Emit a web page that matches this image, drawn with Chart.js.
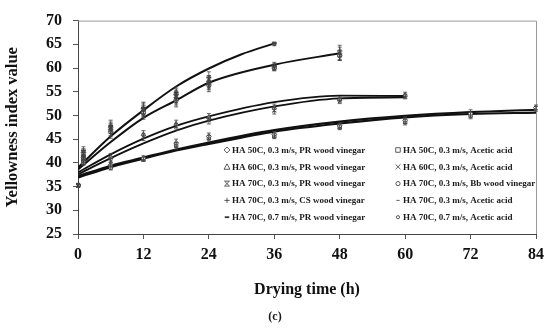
<!DOCTYPE html>
<html><head><meta charset="utf-8">
<script src="https://cdn.jsdelivr.net/npm/chart.js@4.4.0/dist/chart.umd.min.js"></script>
<style>html,body{margin:0;padding:0;background:#fff}</style>
</head><body>
<canvas id="c" width="550" height="334" style="width:550px;height:334px;display:block"></canvas>
<script>
// ---- data ----
const xTicks = [0, 12, 24, 36, 48, 60, 72, 84];
const yTicks = [25, 30, 35, 40, 45, 50, 55, 60, 65, 70];

const seriesNames = [
  'HA 50C, 0.3 m/s, PR wood vinegar', 'HA 50C, 0.3 m/s, Acetic acid',
  'HA 60C, 0.3 m/s, PR wood vinegar', 'HA 60C, 0.3 m/s, Acetic acid',
  'HA 70C, 0.3 m/s, PR wood vinegar', 'HA 70C, 0.3 m/s, Bb wood vinegar',
  'HA 70C, 0.3 m/s, CS wood vinegar', 'HA 70C, 0.3 m/s, Acetic acid',
  'HA 70C, 0.7 m/s, PR wood vinegar', 'HA 70C, 0.7 m/s, Acetic acid'
];

const times50 = [0, 1, 6, 12, 18, 24, 36, 48, 60, 72, 84];
const times60 = [0, 1, 6, 12, 18, 24, 36, 48, 60];
const times70s = [0, 1, 6, 12, 18, 24, 36, 48];
const times70f = [0, 1, 6, 12, 18, 24, 36];

const yi50PR = [35.3, 40.4, 39.6, 41.0, 44.2, 45.6, 46.0, 47.8, 49.0, 50.4, 51.7];
const er50PR = [0.3, 0.6, 0.5, 0.5, 0.8, 0.7, 0.6, 0.5, 0.7, 0.8, 0.5];
const yi50AA = [35.2, 40.0, 39.0, 40.7, 43.6, 45.2, 45.6, 47.5, 48.6, 50.0, 51.4];
const er50AA = [0.3, 0.5, 0.5, 0.4, 0.7, 0.6, 0.5, 0.5, 0.6, 0.7, 0.5];
const yi60PR = [35.3, 41.0, 41.2, 46.0, 48.2, 49.6, 51.6, 53.4, 54.3];
const er60PR = [0.3, 0.6, 0.8, 0.8, 0.8, 0.8, 0.8, 0.5, 0.6];
const yi60AA = [35.2, 40.6, 40.4, 45.4, 47.6, 48.9, 51.0, 53.0, 54.0];
const er60AA = [0.3, 0.5, 0.7, 0.7, 0.7, 0.7, 0.7, 0.5, 0.5];
const yi70PR = [35.3, 41.6, 47.0, 51.0, 53.8, 56.8, 60.3, 63.0];
const er70PR = [0.3, 0.8, 1.2, 1.2, 1.2, 1.2, 0.6, 1.4];
const yi70Bb = [35.2, 41.2, 46.6, 50.6, 53.2, 56.4, 60.0, 62.6];
const er70Bb = [0.3, 0.6, 1.0, 1.0, 1.0, 1.0, 0.5, 1.0];
const yi70CS = [35.4, 42.2, 47.4, 51.4, 54.4, 57.2, 60.6, 63.6];
const er70CS = [0.3, 0.8, 1.2, 1.2, 1.2, 1.2, 0.6, 1.2];
const yi70AA = [35.2, 41.0, 46.2, 50.2, 52.8, 56.0, 59.9, 62.8];
const er70AA = [0.3, 0.6, 1.0, 1.0, 1.0, 1.0, 0.5, 1.0];
const yi70fPR = [35.3, 42.6, 47.8, 51.6, 54.8, 58.0, 65.2];
const er70fPR = [0.3, 0.8, 1.2, 1.2, 1.2, 1.2, 0.3];
const yi70fAA = [35.2, 42.0, 47.2, 51.0, 54.2, 57.4, 65.0];
const er70fAA = [0.3, 0.6, 1.0, 1.0, 1.0, 1.0, 0.3];

// fitted curves (read at a few times)
const fitT50 = [0, 6, 12, 18, 24, 36, 48, 60, 72, 84];
const fit50PR = [37.2, 39.4, 41.1, 42.8, 44.3, 46.9, 48.7, 49.9, 50.7, 51.2];
const fit50AA = [36.9, 39.1, 40.9, 42.6, 44.0, 46.6, 48.3, 49.6, 50.3, 50.6];
const fitT60 = [0, 6, 12, 18, 24, 36, 48, 60];
const fit60PR = [38.0, 41.8, 45.1, 47.8, 49.8, 52.8, 54.2, 54.1];
const fit60AA = [37.6, 41.0, 44.1, 46.8, 48.9, 51.9, 53.6, 53.8];
const fitT70s = [0, 6, 12, 18, 24, 36, 48];
const fit70s = [38.6, 44.4, 49.5, 53.2, 56.9, 60.7, 63.1];
const fitT70f = [0, 6, 12, 18, 24, 30, 36];
const fit70f = [39.0, 45.6, 51.1, 56.1, 59.9, 62.9, 65.2];

// ---- build datasets ----
const pts = (xs, ys) => xs.map((x, i) => ({ x: x, y: ys[i] }));
const markerDefs = [
  { t: times50, y: yi50PR, e: er50PR, style: 'rectRot', r: 2.4 },
  { t: times50, y: yi50AA, e: er50AA, style: 'rect', r: 2.4 },
  { t: times60, y: yi60PR, e: er60PR, style: 'triangle', r: 2.6 },
  { t: times60, y: yi60AA, e: er60AA, style: 'crossRot', r: 2.6 },
  { t: times70s, y: yi70PR, e: er70PR, style: 'star', r: 2.6 },
  { t: times70s, y: yi70Bb, e: er70Bb, style: 'circle', r: 2.2 },
  { t: times70s, y: yi70CS, e: er70CS, style: 'cross', r: 2.8 },
  { t: times70s, y: yi70AA, e: er70AA, style: 'line', r: 1.6 },
  { t: times70f, y: yi70fPR, e: er70fPR, style: 'line', r: 2.4, bw: 2 },
  { t: times70f, y: yi70fAA, e: er70fAA, style: 'circle', r: 1.4 }
];
const markerSets = markerDefs.map((d, i) => ({
  label: seriesNames[i],
  data: pts(d.t, d.y),
  errors: d.e,
  showLine: false,
  pointStyle: d.style,
  pointRadius: d.r,
  pointHoverRadius: d.r,
  pointBorderWidth: d.bw || 0.9,
  pointBorderColor: '#3a3a3a',
  pointBackgroundColor: '#ffffff'
}));
const fitDefs = [
  [fitT50, fit50PR, 2.2], [fitT50, fit50AA, 2.2],
  [fitT60, fit60PR, 1.8], [fitT60, fit60AA, 1.8],
  [fitT70s, fit70s, 2], [fitT70f, fit70f, 2]
];
const fitSets = fitDefs.map(f => ({
  label: 'fit',
  data: pts(f[0], f[1]),
  showLine: true,
  borderColor: '#111',
  borderWidth: f[2],
  pointRadius: 0,
  tension: 0.4,
  cubicInterpolationMode: 'monotone',
  fill: false
}));

const serif = "'Liberation Serif', 'Times New Roman', serif";

// ---- plugins ----
const frame = {
  id: 'frame',
  beforeDatasetsDraw(chart) {
    const { ctx, chartArea: a } = chart;
    ctx.save();
    ctx.strokeStyle = '#9a9a9a';
    ctx.lineWidth = 1;
    ctx.beginPath();
    ctx.moveTo(a.left, a.top + 0.5); ctx.lineTo(a.right + 0.5, a.top + 0.5);
    ctx.lineTo(a.right + 0.5, a.bottom);
    ctx.stroke();
    ctx.restore();
  }
};
const errorBars = {
  id: 'errorBars',
  afterDatasetsDraw(chart) {
    const { ctx } = chart;
    const ys = chart.scales.y;
    ctx.save();
    ctx.strokeStyle = '#444';
    ctx.lineWidth = 0.8;
    chart.data.datasets.forEach((ds, di) => {
      if (!ds.errors) return;
      const meta = chart.getDatasetMeta(di);
      meta.data.forEach((el, i) => {
        const v = ds.data[i].y, e = ds.errors[i];
        const y1 = ys.getPixelForValue(v + e), y2 = ys.getPixelForValue(v - e);
        ctx.beginPath();
        ctx.moveTo(el.x, y1); ctx.lineTo(el.x, y2);
        ctx.moveTo(el.x - 2, y1); ctx.lineTo(el.x + 2, y1);
        ctx.moveTo(el.x - 2, y2); ctx.lineTo(el.x + 2, y2);
        ctx.stroke();
      });
    });
    ctx.restore();
  }
};
function drawMarker(ctx, style, x, y, r, bw) {
  ctx.save();
  ctx.strokeStyle = '#333';
  ctx.fillStyle = '#fff';
  ctx.lineWidth = bw;
  ctx.beginPath();
  if (style === 'circle') { ctx.arc(x, y, r, 0, Math.PI * 2); ctx.fill(); ctx.stroke(); }
  else if (style === 'rect') { ctx.rect(x - r, y - r, 2 * r, 2 * r); ctx.fill(); ctx.stroke(); }
  else if (style === 'rectRot') { ctx.moveTo(x, y - r * 1.3); ctx.lineTo(x + r * 1.3, y); ctx.lineTo(x, y + r * 1.3); ctx.lineTo(x - r * 1.3, y); ctx.closePath(); ctx.fill(); ctx.stroke(); }
  else if (style === 'triangle') { ctx.moveTo(x, y - r * 1.2); ctx.lineTo(x + r * 1.2, y + r); ctx.lineTo(x - r * 1.2, y + r); ctx.closePath(); ctx.fill(); ctx.stroke(); }
  else if (style === 'crossRot') { ctx.moveTo(x - r, y - r); ctx.lineTo(x + r, y + r); ctx.moveTo(x + r, y - r); ctx.lineTo(x - r, y + r); ctx.stroke(); }
  else if (style === 'cross') { ctx.moveTo(x - r, y); ctx.lineTo(x + r, y); ctx.moveTo(x, y - r); ctx.lineTo(x, y + r); ctx.stroke(); }
  else if (style === 'star') { ctx.moveTo(x - r, y - r); ctx.lineTo(x + r, y + r); ctx.moveTo(x + r, y - r); ctx.lineTo(x - r, y + r); ctx.moveTo(x - r, y - r); ctx.lineTo(x + r, y - r); ctx.moveTo(x - r, y + r); ctx.lineTo(x + r, y + r); ctx.stroke(); }
  else if (style === 'line') { ctx.moveTo(x - r, y); ctx.lineTo(x + r, y); ctx.stroke(); }
  ctx.restore();
}
const legendBox = {
  id: 'legendBox',
  afterDraw(chart, args, opts) {
    const { ctx } = chart;
    ctx.save();
    ctx.font = 'bold 9px ' + serif;
    ctx.fillStyle = '#1a1a1a';
    ctx.textBaseline = 'middle';
    ctx.textAlign = 'left';
    markerDefs.forEach((d, i) => {
      const col = i % 2, row = Math.floor(i / 2);
      const x = opts.x[col], y = opts.y0 + row * opts.dy;
      drawMarker(ctx, d.style, x, y, Math.max(d.r * 0.95, 1.6), d.bw ? 1.8 : 0.8);
      ctx.fillText(seriesNames[i], x + 5, y + 0.5);
    });
    ctx.restore();
  }
};

new Chart(document.getElementById('c'), {
  type: 'scatter',
  data: { datasets: markerSets.concat(fitSets) },
  options: {
    responsive: false,
    animation: false,
    devicePixelRatio: 1,
    layout: { padding: { top: 12, right: 0, left: 0, bottom: 0 } },
    plugins: {
      legend: { display: false },
      tooltip: { enabled: false },
      title: {
        display: true, position: 'bottom', text: '(c)', color: '#1a1a1a',
        font: { family: serif, size: 12, weight: 'bold' },
        padding: { top: 0, bottom: 10 }
      },
      legendBox: { x: [227, 398], y0: 150, dy: 16.8 }
    },
    scales: {
      x: {
        type: 'linear', min: 0, max: 84,
        afterBuildTicks: s => { s.ticks = xTicks.map(v => ({ value: v })); },
        afterFit: s => { s.height = 75.6; },
        ticks: { color: '#111', padding: 6, font: { family: serif, size: 16, weight: 'bold' } },
        grid: { drawOnChartArea: false, drawTicks: true, tickLength: 5, color: '#555' },
        border: { color: '#444', width: 1 },
        title: { display: true, text: 'Drying time (h)', color: '#111',
          font: { family: serif, size: 16, weight: 'bold' }, padding: { top: 0, bottom: 10 } }
      },
      y: {
        type: 'linear', min: 25, max: 70,
        afterBuildTicks: s => { s.ticks = yTicks.map(v => ({ value: v })); },
        afterFit: s => { s.width = 78; },
        ticks: { color: '#111', padding: 11, font: { family: serif, size: 16, weight: 'bold' } },
        grid: { drawOnChartArea: false, drawTicks: true, tickLength: 5, color: '#555' },
        border: { color: '#444', width: 1 },
        title: { display: true, text: 'Yellowness index value', color: '#111',
          font: { family: serif, size: 16.5, weight: 'bold' }, padding: { top: 3, bottom: 0 } }
      },
      yRight: {
        type: 'linear', position: 'right', display: true, min: 0, max: 1,
        afterFit: s => { s.width = 13; },
        ticks: { display: false },
        grid: { display: false, drawTicks: false },
        border: { display: false }
      }
    }
  },
  plugins: [frame, errorBars, legendBox]
});
</script>
</body></html>
